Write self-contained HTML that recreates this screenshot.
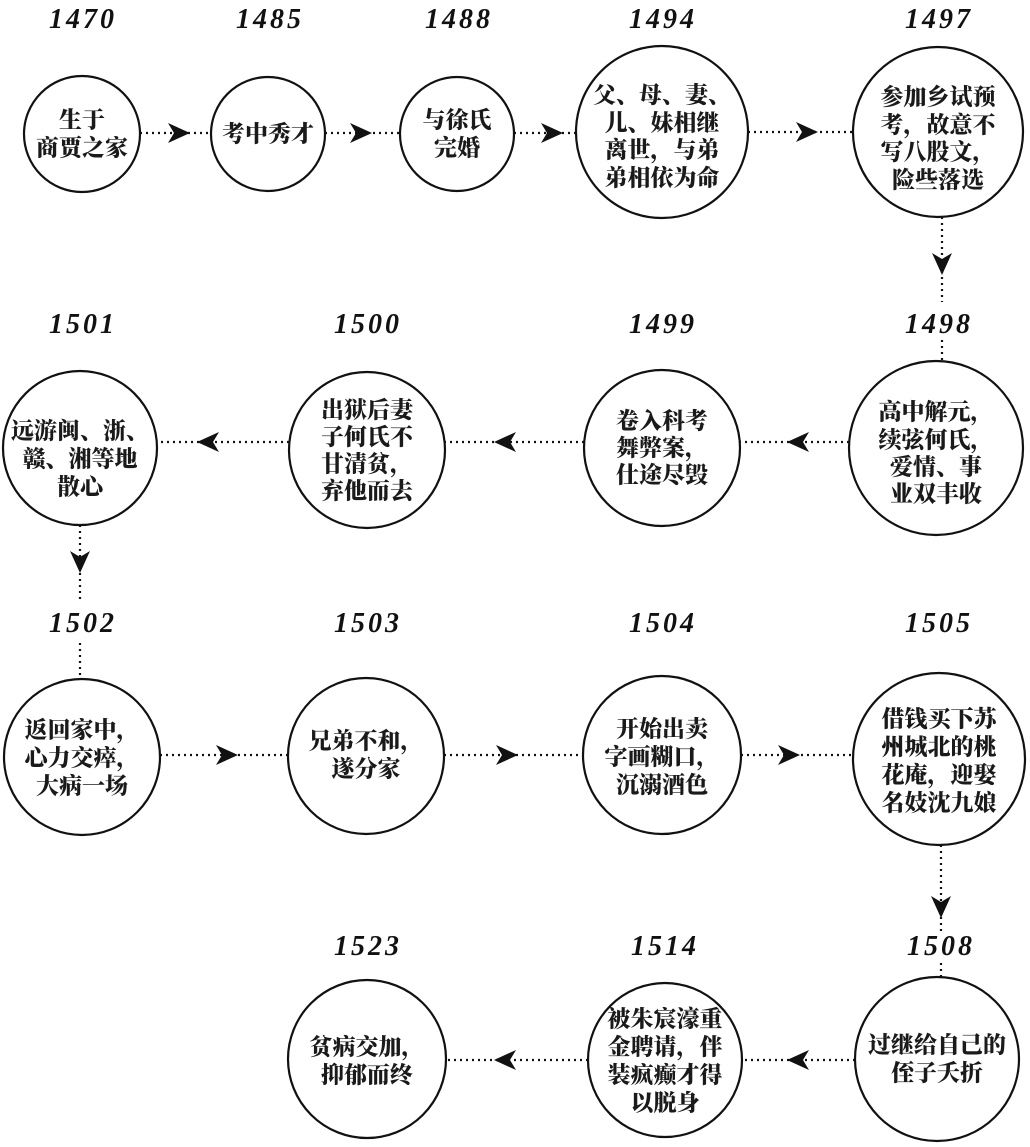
<!DOCTYPE html>
<html><head><meta charset="utf-8"><style>
html,body{margin:0;padding:0;background:#fff;}
svg{display:block;}
.y{font-family:"Liberation Serif",serif;font-weight:bold;font-style:italic;font-size:28px;letter-spacing:3px;fill:#111;}
.t{font-family:"Liberation Serif","Noto Serif CJK SC",serif;font-weight:900;font-size:23px;fill:#1a1a1a;}
.c{fill:#fff;stroke:#111;stroke-width:2.2;}
.d{stroke:#111;stroke-width:2.2;stroke-dasharray:2 4;fill:none;}
.a{fill:#111;}
</style></head><body>
<svg width="1030" height="1147" viewBox="0 0 1030 1147" xmlns="http://www.w3.org/2000/svg">
<g class="d">
<line x1="140" y1="133" x2="211" y2="133"/>
<line x1="325" y1="133" x2="400" y2="133"/>
<line x1="514" y1="133" x2="576" y2="133"/>
<line x1="748" y1="132" x2="853" y2="132"/>
<line x1="942" y1="217" x2="942" y2="302"/>
<line x1="942" y1="340" x2="942" y2="361"/>
<line x1="849" y1="442" x2="740" y2="442"/>
<line x1="584" y1="442" x2="445" y2="442"/>
<line x1="289" y1="442" x2="157" y2="442"/>
<line x1="80" y1="525" x2="80" y2="600"/>
<line x1="80" y1="643" x2="80" y2="679"/>
<line x1="160" y1="755" x2="288" y2="755"/>
<line x1="444" y1="755" x2="583" y2="755"/>
<line x1="741" y1="755" x2="853" y2="755"/>
<line x1="941" y1="845" x2="941" y2="935"/>
<line x1="941" y1="963" x2="941" y2="977"/>
<line x1="855" y1="1060" x2="742" y2="1060"/>
<line x1="588" y1="1060" x2="446" y2="1060"/>
</g>
<g class="a">
<path d="M190,133 L168,123 L174,133 L168,143 Z"/>
<path d="M372,133 L350,123 L356,133 L350,143 Z"/>
<path d="M563,133 L541,123 L547,133 L541,143 Z"/>
<path d="M818,132 L796,122 L802,132 L796,142 Z"/>
<path d="M942,275 L932,253 L942,259 L952,253 Z"/>
<path d="M787,442 L809,432 L803,442 L809,452 Z"/>
<path d="M494,442 L516,432 L510,442 L516,452 Z"/>
<path d="M197,442 L219,432 L213,442 L219,452 Z"/>
<path d="M80,573 L70,551 L80,557 L90,551 Z"/>
<path d="M238,755 L216,745 L222,755 L216,765 Z"/>
<path d="M518,755 L496,745 L502,755 L496,765 Z"/>
<path d="M800,755 L778,745 L784,755 L778,765 Z"/>
<path d="M941,918 L931,896 L941,902 L951,896 Z"/>
<path d="M787,1060 L809,1050 L803,1060 L809,1070 Z"/>
<path d="M494,1060 L516,1050 L510,1060 L516,1070 Z"/>
</g>
<g class="y" text-anchor="middle">
<text x="83" y="28">1470</text>
<text x="270" y="28">1485</text>
<text x="459" y="28">1488</text>
<text x="663" y="28">1494</text>
<text x="939" y="28">1497</text>
<text x="83" y="333">1501</text>
<text x="368" y="333">1500</text>
<text x="663" y="333">1499</text>
<text x="939" y="333">1498</text>
<text x="83" y="632">1502</text>
<text x="368" y="632">1503</text>
<text x="663" y="632">1504</text>
<text x="939" y="632">1505</text>
<text x="368" y="955">1523</text>
<text x="665" y="955">1514</text>
<text x="941" y="955">1508</text>
</g>
<circle class="c" cx="82" cy="134" r="58"/>
<circle class="c" cx="268" cy="134" r="57"/>
<circle class="c" cx="457" cy="134" r="57"/>
<circle class="c" cx="662" cy="132" r="86"/>
<circle class="c" cx="938" cy="132" r="85"/>
<circle class="c" cx="936" cy="448" r="87"/>
<circle class="c" cx="662" cy="448" r="78"/>
<circle class="c" cx="367" cy="450" r="78"/>
<circle class="c" cx="80" cy="448" r="77"/>
<circle class="c" cx="82" cy="757" r="78"/>
<circle class="c" cx="366" cy="756" r="78"/>
<circle class="c" cx="662" cy="755" r="79"/>
<circle class="c" cx="939" cy="759" r="86"/>
<circle class="c" cx="937" cy="1059" r="82"/>
<circle class="c" cx="665" cy="1060" r="77"/>
<circle class="c" cx="367" cy="1059" r="79"/>
<g class="t" text-anchor="middle" dominant-baseline="central">
<text x="82" y="120">生于</text><text x="82" y="148">商贾之家</text>
<text x="268" y="134">考中秀才</text>
<text x="457" y="120">与徐氏</text><text x="457" y="148">完婚</text>
<text x="662" y="95">父、母、妻、</text><text x="662" y="123">儿、妹相继</text><text x="662" y="150">离世，与弟</text><text x="662" y="178">弟相依为命</text>
<text x="938" y="97">参加乡试预</text><text x="938" y="125">考，故意不</text><text x="938" y="152">写八股文，</text><text x="938" y="180">险些落选</text>
<text x="936" y="412">高中解元，</text><text x="936" y="440">续弦何氏，</text><text x="936" y="467">爱情、事</text><text x="936" y="494">业双丰收</text>
<text x="662" y="421">卷入科考</text><text x="662" y="448">舞弊案，</text><text x="662" y="475">仕途尽毁</text>
<text x="367" y="410">出狱后妻</text><text x="367" y="437">子何氏不</text><text x="367" y="464">甘清贫，</text><text x="367" y="491">弃他而去</text>
<text x="80" y="431">远游闽、浙、</text><text x="80" y="459">赣、湘等地</text><text x="80" y="487">散心</text>
<text x="82" y="730">返回家中，</text><text x="82" y="758">心力交瘁，</text><text x="82" y="786">大病一场</text>
<text x="366" y="741">兄弟不和，</text><text x="366" y="769">遂分家</text>
<text x="662" y="729">开始出卖</text><text x="662" y="757">字画糊口，</text><text x="662" y="785">沉溺酒色</text>
<text x="939" y="719">借钱买下苏</text><text x="939" y="747">州城北的桃</text><text x="939" y="775">花庵，迎娶</text><text x="939" y="803">名妓沈九娘</text>
<text x="937" y="1045">过继给自己的</text><text x="937" y="1073">侄子夭折</text>
<text x="665" y="1019">被朱宸濠重</text><text x="665" y="1047">金聘请，伴</text><text x="665" y="1075">装疯癫才得</text><text x="665" y="1103">以脱身</text>
<text x="367" y="1047">贫病交加，</text><text x="367" y="1075">抑郁而终</text>
</g>
</svg>
</body></html>
